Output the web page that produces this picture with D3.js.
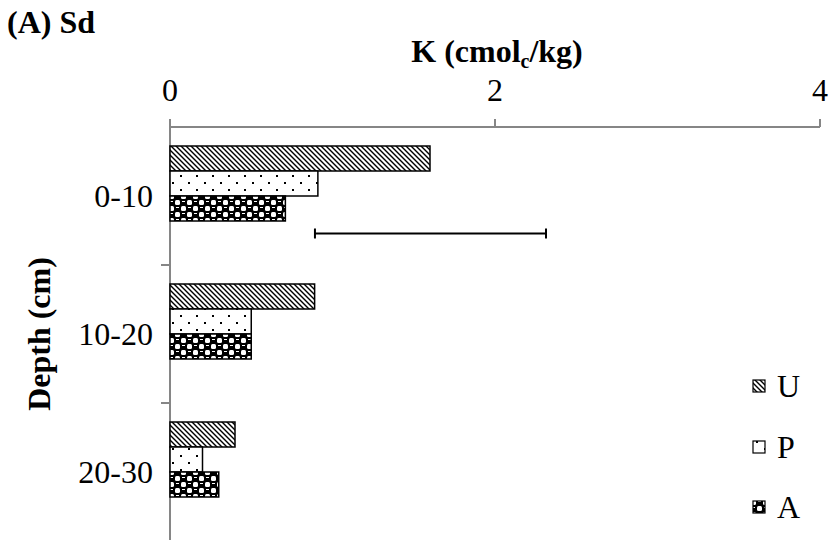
<!DOCTYPE html>
<html><head><meta charset="utf-8">
<script src="https://cdn.jsdelivr.net/npm/d3@7/dist/d3.min.js"></script>
<style>body{margin:0;background:#fff}svg{display:block}text{font-family:"Liberation Serif","Times New Roman",serif;fill:#000}</style>
</head><body><svg id="c" width="831" height="540"></svg>
<script>
const categories = ["0-10", "10-20", "20-30"];
const seriesNames = ["U", "P", "A"];
const valuesU = [1.60, 0.89, 0.40];
const valuesP = [0.91, 0.50, 0.20];
const valuesA = [0.71, 0.50, 0.30];
const lsdCenter = [1.603, null, null];
const lsdHalf = [0.711, null, null];
const xTicks = [0, 2, 4];

const svg = d3.select("#c");
const defs = svg.append("defs");

// patterns
const pU = defs.append("pattern").attr("id","pU").attr("patternUnits","userSpaceOnUse").attr("width",5).attr("height",5);
pU.append("rect").attr("width",5).attr("height",5).attr("fill","#fff");
pU.append("path").attr("d","M-1,-1L6,6M-1,4L1,6M4,-1L6,1").attr("stroke","#000").attr("stroke-width",1.4);

const pP = defs.append("pattern").attr("id","pP").attr("patternUnits","userSpaceOnUse").attr("width",16).attr("height",14).attr("y",3);
pP.append("rect").attr("width",16).attr("height",14).attr("fill","#fff");
pP.append("rect").attr("x",4).attr("y",4).attr("width",2).attr("height",2).attr("fill","#000");
pP.append("rect").attr("x",12).attr("y",11).attr("width",2).attr("height",2).attr("fill","#000");

const pA = defs.append("pattern").attr("id","pA").attr("patternUnits","userSpaceOnUse").attr("width",12).attr("height",12).attr("y",1);
pA.append("rect").attr("width",12).attr("height",12).attr("fill","#000");
pA.append("rect").attr("x",1).attr("y",1).attr("width",5).attr("height",5).attr("rx",1.5).attr("fill","#fff");
pA.append("rect").attr("x",7).attr("y",7).attr("width",5).attr("height",5).attr("rx",1.5).attr("fill","#fff");
pA.append("rect").attr("x",8).attr("y",2).attr("width",3).attr("height",1).attr("fill","#fff");
pA.append("rect").attr("x",2).attr("y",8).attr("width",3).attr("height",1).attr("fill","#fff");

const fills = ["url(#pU)","url(#pP)","url(#pA)"];
const seriesVals = [valuesU, valuesP, valuesA];

const x = d3.scaleLinear().domain([0,4]).range([170,820]);
const y = d3.scaleBand().domain(categories).range([127,541]).paddingInner(0).paddingOuter(0);
const slots = d3.scaleBand().domain(["U","P","A","LSD"]).range([0,y.bandwidth()]).paddingInner(0).paddingOuter(0.76);

const axisColor = "#868686";
const FS = 32;

// x axis
svg.append("line").attr("x1",x(0)).attr("x2",x(4)).attr("y1",127).attr("y2",127).attr("stroke",axisColor).attr("stroke-width",2);
svg.selectAll(".xt").data(xTicks).enter().append("line")
  .attr("x1",d=>x(d)).attr("x2",d=>x(d)).attr("y1",119).attr("y2",127).attr("stroke",axisColor).attr("stroke-width",2);
svg.selectAll(".xl").data(xTicks).enter().append("text")
  .attr("x",d=>x(d)).attr("y",101).attr("text-anchor","middle").attr("font-size",FS).text(d=>d);

// y axis
svg.append("line").attr("x1",170).attr("x2",170).attr("y1",119).attr("y2",541).attr("stroke",axisColor).attr("stroke-width",2);
const yTickPos = categories.slice(1).map(c=>y(c));
svg.selectAll(".yt").data(yTickPos).enter().append("line")
  .attr("x1",161).attr("x2",170).attr("y1",d=>d).attr("y2",d=>d).attr("stroke",axisColor).attr("stroke-width",2);
svg.selectAll(".yl").data(categories).enter().append("text")
  .attr("x",153).attr("y",d=>y(d)+y.bandwidth()/2+11).attr("text-anchor","end").attr("font-size",FS).text(d=>d);

// bars
seriesNames.forEach((s,si)=>{
  svg.selectAll(".b"+s).data(categories).enter().append("rect")
    .attr("x",x(0)).attr("y",d=>y(d)+slots(s))
    .attr("width",(d,i)=>x(seriesVals[si][i])-x(0)).attr("height",slots.bandwidth())
    .attr("fill",fills[si]).attr("stroke","#000").attr("stroke-width",1.5);
});

// error bar (LSD)
categories.forEach((c,i)=>{
  if(lsdCenter[i]==null) return;
  const yy = y(c)+slots("LSD")+slots.bandwidth()/2;
  const x1 = x(lsdCenter[i]-lsdHalf[i]), x2 = x(lsdCenter[i]+lsdHalf[i]);
  svg.append("line").attr("x1",x1).attr("x2",x2).attr("y1",yy).attr("y2",yy).attr("stroke","#000").attr("stroke-width",2);
  [x1,x2].forEach(xx=>svg.append("line").attr("x1",xx).attr("x2",xx).attr("y1",yy-5).attr("y2",yy+5).attr("stroke","#000").attr("stroke-width",2));
});

// titles
svg.append("text").attr("x",7).attr("y",33).attr("font-size",FS).attr("font-weight","bold").text("(A) Sd");
const xt = svg.append("text").attr("x",497).attr("y",62).attr("text-anchor","middle").attr("font-size",FS).attr("font-weight","bold");
xt.append("tspan").text("K (cmol");
xt.append("tspan").attr("font-size",20).attr("dy",6).text("c");
xt.append("tspan").attr("dy",-6).text("/kg)");
svg.append("text").attr("transform","translate(50,334) rotate(-90)").attr("text-anchor","middle").attr("font-size",FS).attr("font-weight","bold").text("Depth (cm)");

// legend
const legY = [386, 447, 507];
seriesNames.forEach((s,i)=>{
  svg.append("rect").attr("x",753).attr("y",legY[i]-6).attr("width",12).attr("height",12)
    .attr("fill",fills[i]).attr("stroke","#000").attr("stroke-width",1.2);
  svg.append("text").attr("x",777).attr("y",legY[i]+11).attr("font-size",FS).text(s);
});
</script></body></html>
